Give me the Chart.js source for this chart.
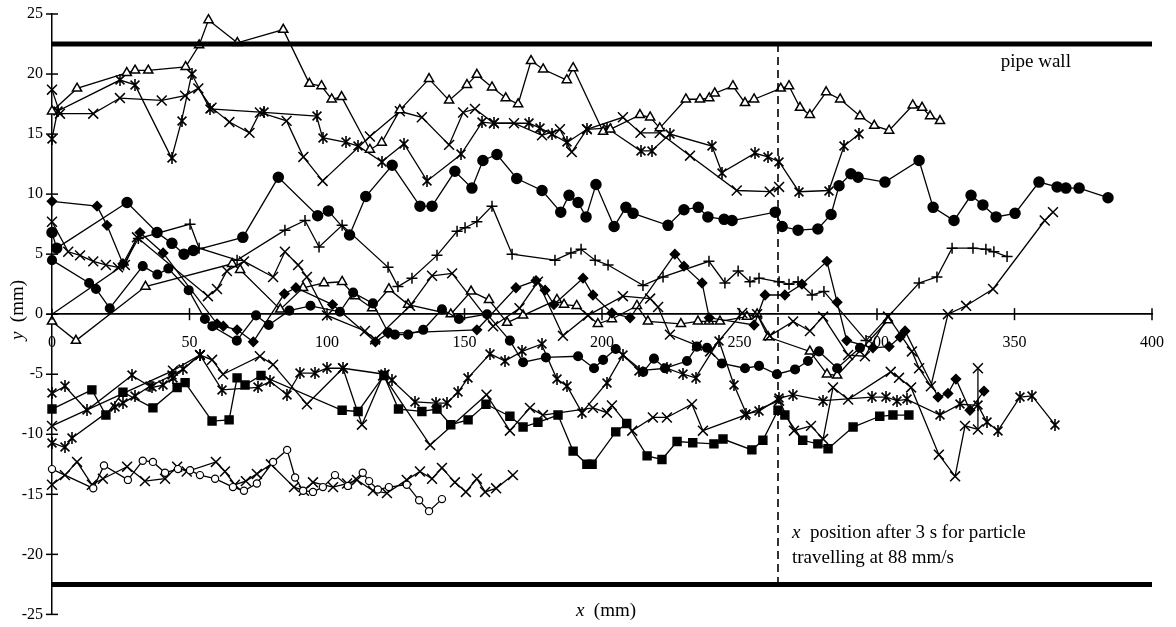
<!DOCTYPE html>
<html><head><meta charset="utf-8">
<script src="https://cdn.jsdelivr.net/npm/chart.js@4.4.0/dist/chart.umd.min.js"></script>
<style>html,body{margin:0;padding:0;background:#fff;}canvas{display:block;}</style>
</head><body>
<canvas id="c" width="1176" height="627"></canvas>
<script>
// ---- tick labels ----
const xTicks = [0,50,100,150,200,250,300,350,400];
const yTicks = [-25,-20,-15,-10,-5,0,5,10,15,20,25];
// ---- reference lines ----
const wallX = [0,400];
const wallTopY = [22.5,22.5];
const wallBotY = [-22.5,-22.5];
const dashX = [264,264];
const dashY = [22.5,-22.5];
// ---- series (x mm, y mm) ----
const triX = [0,9.1,27.2,30.2,35,48.6,53.5,56.9,67.4,84.1,93.6,98,101.7,105.3,115.6,119.9,126.5,137.1,144.4,150.9,154.5,160,165,169.5,174.2,178.6,187.2,189.5,200.4,203,213.8,217.5,221,230.5,235.6,239,241,247.6,252,255.3,265,268,272,275.6,281.5,286.6,293.8,299,304.4,313,316.4,319.3,322.9];
const triY = [16.9,18.8,20.1,20.3,20.3,20.6,22.4,24.5,22.6,23.7,19.2,19.0,17.9,18.1,13.7,14.3,17.0,19.6,17.8,19.1,19.95,18.9,18.0,17.5,21.1,20.4,19.5,20.5,15.2,15.4,16.6,16.4,15.5,17.9,17.9,18.0,18.4,19.0,17.6,17.9,18.8,19.0,17.2,16.6,18.5,17.9,16.5,15.7,15.3,17.4,17.2,16.5,16.1];
const s1X = [0,2,24.7,30.2,43.5,47.1,50.8,57.4,77,96.2,98.4,107,111.4,119.9,128,136.4,148.7,156.4,160.7,173.5,177.5,181.8,187.3,194.5,201.8,214,218,224.7,240,243.6,255.6,260.4,264.4,271.6,282.5,288,293.5];
const s1Y = [14.6,16.9,19.5,19.1,13.0,16.1,20.0,17.1,16.8,16.5,14.7,14.3,14.0,12.7,14.2,11.1,13.3,16.0,15.9,15.9,15.5,15.0,14.3,15.4,15.5,13.6,13.6,15.0,14.0,11.8,13.4,13.1,12.7,10.2,10.3,14.0,15.0];
const s2X = [0,2.9,15,24.7,39.9,48.4,53.2,58,64.5,71.8,75.6,85.3,91.4,98.4,115.6,126.5,134.5,144.4,149.5,153.8,160.7,168,178.2,184.7,189,194.5,207.6,214,221,232,249,261,264.4];
const s2Y = [18.7,16.7,16.7,18.0,17.8,18.2,18.8,17.2,16.0,15.1,16.8,16.1,13.1,11.1,14.8,16.9,16.4,14.1,16.8,17.1,15.9,15.9,14.9,15.4,13.5,15.4,16.4,15.1,15.1,13.2,10.3,10.2,10.6];
const fc1X = [0,1.7,27.3,38.2,43.6,48,51.4,69.4,82.3,96.6,100.5,108.2,114.1,123.7,133.8,138.2,146.5,152.7,156.7,161.8,169,178.2,185,188,191.3,194.2,197.8,204.4,208.7,211.3,224,229.8,235,238.5,244.4,247.3,263,265.5,271.3,278.5,283.3,286.2,290.5,293.1,302.9,315.3,320.4,328,334.2,338.5,343.3,350.2,358.9,365.5,368.7,373.5,384];
const fc1Y = [6.8,5.5,9.3,6.8,5.9,5.0,5.3,6.4,11.4,8.2,8.6,6.6,9.8,12.4,9.0,9.0,11.9,10.5,12.8,13.3,11.3,10.3,8.5,9.9,9.3,8.1,10.8,7.3,8.9,8.4,7.4,8.7,8.9,8.1,7.9,7.8,8.5,7.3,7.0,7.1,8.3,10.7,11.7,11.4,11.0,12.8,8.9,7.8,9.9,9.1,8.1,8.4,11.0,10.6,10.5,10.5,9.7];
const fc2X = [0,13.5,16,21,33,38.3,42.3,49.7,55.6,58.3,67.2,74.2,78.8,86.3,94,104.7,109.5,116.7,122.2,124.7,129.5,135,141.8,148,158.2,166.5,171.3,179.6,191.3,197.1,200.4,205,215,218.9,222.9,230.9,234.5,238.2,243.6,252,257.1,263.6,270.2,274.9,278.9,285.5,293.8];
const fc2Y = [4.5,2.6,2.1,0.5,4.0,3.3,3.8,2.0,-0.4,-1.0,-2.2,-0.1,-0.9,0.3,0.7,0.2,1.8,0.9,-1.5,-1.7,-1.7,-1.3,0.4,-0.4,0,-2.2,-4.0,-3.6,-3.5,-4.5,-3.8,-2.9,-4.8,-3.7,-4.5,-3.9,-2.7,-2.8,-4.1,-4.5,-4.3,-5.0,-4.6,-3.9,-3.1,-4.5,-2.8];
const dX = [0,16.4,20,25.8,32,40.4,60,62.3,67.3,73.2,84.5,88.7,102,117.6,122.2,154.5,168.7,176,179.3,182.5,193.1,196.7,203.6,210.2,226.5,229.8,236.4,239,255.3,259.3,266.5,272.7,281.8,285.5,289,298.5,304.4,308.4,310.2,322.2,325.8,328.7,333.8,338.9];
const dY = [9.4,9.0,7.4,4.2,6.8,5.1,-0.8,-1.0,-1.3,-2.3,1.7,2.2,0.8,-2.3,-1.6,-1.3,2.2,2.8,2.0,0.8,3.0,1.6,0.1,-0.3,5.0,4.0,2.6,-0.3,-0.9,1.6,1.6,2.5,4.4,1.0,-2.2,-2.8,-2.7,-1.9,-1.4,-6.9,-6.6,-5.4,-8.0,-6.4];
const pX = [0,26,31.4,50.2,53.5,67.3,84.7,92,97.1,105.5,122.2,125.8,130.9,140,147.3,150.2,154.5,160,167.3,182.9,188.7,192.4,197.5,202.2,214.9,222.2,238.9,244.7,249.5,253.8,257.1,264.4,268,271.3,276.4,280.7,296,315.3,321.8,327.3,334.9,339.6,342.5,347.3];
const pY = [0,4.1,6.3,7.5,5.5,4.5,7.0,7.8,5.6,7.4,3.9,2.3,3.0,4.9,6.9,7.2,7.7,9.0,5.0,4.5,5.1,5.4,4.5,4.1,2.4,3.1,4.4,2.6,3.6,2.7,3.0,2.7,2.5,2.7,1.6,1.9,-2.2,2.6,3.1,5.5,5.5,5.4,5.2,4.8];
const xaX = [0,5.9,10.2,15,19.6,24,26.5,30.9,56.7,60,63.6,69.8,80.4,84.7,89.5,92.7,100,113.8,117.5,130.2,138.2,145.5,160.4,170,176.7,185.8,194.9,207.6,217.5,220.4,224.7,234.5,239.3,251,256.4,261,269.5,275.6,280.4,289.5,295.6,304,312.7,315.3,319.6,325.8,332.4,342.2,361,364];
const xaY = [7.7,5.2,4.9,4.4,4.1,3.9,4.1,6.4,1.5,2.1,3.6,4.4,3.1,5.2,4.1,3.1,-0.1,-1.4,-2.1,0.7,3.2,3.4,-1.0,0.5,2.7,-1.8,-0.1,1.5,1.3,0.6,-1.7,-2.6,-3.1,0.1,0,-1.8,-0.6,-1.4,-0.2,-3.4,-3.5,-0.2,-3.1,-4.5,-6.0,0,0.7,2.1,7.8,8.5];
const tmX = [0,8.7,34,65.5,68.4,83,91.3,98.9,105.5,110.2,116.4,122.5,129.5,145,152.4,158.9,165.5,171.3,183.6,186.2,190.8,198.5,203.6,212.7,216.7,228.7,234.9,238.9,242.9,252.7,256.4,260.4,275.6,281.8,285.5,304];
const tmY = [-0.6,-2.2,2.3,4.2,3.7,0.4,2.2,2.6,2.7,1.5,0.5,2.1,0.8,0,1.9,1.2,-0.7,-0.1,1.2,0.8,0.7,-0.8,-0.4,0.7,-0.6,-0.8,-0.6,-0.6,-0.6,-0.2,0,-1.9,-3.1,-5.0,-5.1,-0.5];
const sqX = [0,14.5,19.6,25.8,36.7,45.5,48.4,58.2,64.4,67.3,70.2,76,105.5,111.3,120.7,126,134.5,140,145,151.3,157.8,166.5,171.3,176.7,184,189.5,194.5,196.4,205,209,216.4,221.8,227.3,233,240.7,244,254.5,258.5,264,266.5,273,278.5,282.2,291.3,301,305.8,311.6];
const sqY = [-7.9,-6.3,-8.4,-6.5,-7.8,-6.1,-5.7,-8.9,-8.8,-5.3,-5.9,-5.1,-8.0,-8.1,-5.1,-7.9,-8.1,-7.9,-9.2,-8.8,-7.5,-8.5,-9.4,-9.0,-8.4,-11.4,-12.5,-12.5,-9.8,-9.1,-11.8,-12.1,-10.6,-10.7,-10.8,-10.4,-11.3,-10.5,-8.0,-8.4,-10.5,-10.8,-11.2,-9.4,-8.5,-8.4,-8.4];
const xb1X = [0,4.7,12.7,29,36.4,40.4,44,53.8,61.8,75,79.3,85.5,90.2,95.6,99.9,105.8,121,123.6,132,139.6,143.6,147.6,151.3,159.3,164.7,170.9,178,183.6,187.3,192.7,201.8,207.6,213.5,223.5,229.5,234,242.5,248,252.5,257,264.4,269.5,280.4,298.2,303.3,307.3,310.9,322.9,330.2,336.7,340,344,352,356.4,364.7];
const xb1Y = [-6.6,-6.0,-8.0,-5.1,-6.1,-5.9,-5.3,-3.4,-6.3,-6.1,-5.6,-6.7,-4.9,-4.9,-4.5,-4.5,-5.0,-5.5,-7.3,-7.4,-7.4,-6.5,-5.3,-3.3,-3.9,-3.1,-2.5,-5.4,-6.0,-8.2,-5.7,-3.4,-4.7,-4.5,-5.0,-5.3,-2.2,-5.9,-8.3,-8.1,-7.0,-6.7,-7.2,-6.9,-6.9,-7.2,-7.1,-8.4,-7.5,-7.6,-9.0,-9.7,-6.9,-6.8,-9.2];
const xcX = [0,44,53.8,58.2,62.2,75.6,80.4,92.7,105.8,112.7,120.4,137.5,158,166.5,173.8,178.5,196.7,201.8,203.6,211,218.5,223.6,232.7,236.7,252,264.4,269.8,276,280.4,284,289.5,305,308,312.4,322.5,328.4,332,336.7,336.7];
const xcY = [-9.3,-4.7,-3.4,-3.8,-5.0,-3.5,-4.2,-7.5,-4.5,-9.2,-5.1,-10.9,-6.7,-9.7,-7.8,-8.4,-7.8,-8.2,-7.6,-9.7,-8.6,-8.6,-7.5,-9.7,-8.4,-7.2,-9.7,-9.3,-10.4,-6.1,-7.1,-4.8,-5.3,-6.1,-11.7,-13.5,-9.3,-9.6,-4.5];
const xb2X = [0,4.7,7.3,22.9,25.8,30.2,35.6,43.6,47.6,53.8];
const xb2Y = [-10.7,-11.1,-10.3,-7.7,-7.4,-6.8,-6.0,-5.1,-4.6,-3.4];
const ocX = [0,15,18.9,27.6,33,36.7,41.1,45.8,50.2,53.8,59.3,65.8,69.8,74.5,80.4,85.5,88.4,91.3,94.9,98.5,102.9,107.6,113,115.3,118.5,122.5,129,133.5,137.1,141.8];
const ocY = [-12.9,-14.5,-12.6,-13.8,-12.2,-12.3,-13.2,-12.9,-13.0,-13.4,-13.7,-14.4,-14.7,-14.1,-12.3,-11.3,-13.6,-14.7,-14.8,-14.4,-13.4,-14.3,-13.2,-13.9,-14.6,-14.4,-14.2,-15.5,-16.4,-15.4];
const xoX = [0,4.7,9.1,14.5,18.5,27.3,33.8,41.1,45.5,49,59.6,62.9,66.5,70.5,74.5,79.6,88,91.6,94.9,102.2,107.3,110.9,116.7,121.8,129,133.8,138.2,141.8,146.5,150.5,154.5,157.5,161.5,167.6];
const xoY = [-14.2,-13.4,-12.3,-14.2,-13.7,-12.7,-13.9,-13.7,-12.7,-13.1,-12.3,-13.1,-14.2,-13.9,-13.3,-12.5,-14.4,-14.7,-14.0,-14.4,-14.1,-13.8,-14.7,-14.9,-13.8,-13.1,-13.7,-12.8,-14.0,-14.8,-13.7,-14.8,-14.5,-13.4];

// ---- styling ----
const SERIF = '"Liberation Serif", "DejaVu Serif", serif';
Chart.defaults.font.family = SERIF;
Chart.defaults.color = '#000';

function makeAsterisk(r, lw) {
  const s = 16;
  const c = document.createElement('canvas');
  c.width = s; c.height = s;
  const g = c.getContext('2d');
  g.strokeStyle = '#000'; g.lineWidth = lw; g.lineCap = 'butt';
  const m = s / 2, d = r * 0.74;
  g.beginPath();
  g.moveTo(m - d, m - d); g.lineTo(m + d, m + d);
  g.moveTo(m + d, m - d); g.lineTo(m - d, m + d);
  g.moveTo(m, m - r); g.lineTo(m, m + r);
  g.stroke();
  return c;
}
const asterisk = makeAsterisk(6, 1.6);

function pts(xs, ys) { return xs.map((v, i) => ({x: v, y: ys[i]})); }
function ds(xs, ys, o) {
  return Object.assign({
    data: pts(xs, ys), showLine: true, borderColor: '#000', borderWidth: 1.3,
    pointBorderColor: '#000', pointBorderWidth: 1.5, pointHoverRadius: 0,
    clip: false, tension: 0, fill: false
  }, o);
}
const openTri = {pointStyle: 'triangle', pointRadius: 5.3, pointBackgroundColor: '#fff'};
const xMark = {pointStyle: 'crossRot', pointRadius: 7, pointBackgroundColor: '#000'};
const star = {pointStyle: asterisk, pointRadius: 6};

const datasets = [
  ds(wallX, wallTopY, {borderWidth: 5, pointRadius: 0}),
  ds(wallX, wallBotY, {borderWidth: 5, pointRadius: 0}),
  ds(dashX, dashY, {borderWidth: 1.6, borderDash: [8, 5], pointRadius: 0}),
  ds(triX, triY, openTri),
  ds(s1X, s1Y, star),
  ds(s2X, s2Y, xMark),
  ds(fc1X, fc1Y, {pointStyle: 'circle', pointRadius: 5, pointBackgroundColor: '#000'}),
  ds(fc2X, fc2Y, {pointStyle: 'circle', pointRadius: 4.3, pointBackgroundColor: '#000'}),
  ds(dX, dY, {pointStyle: 'rectRot', pointRadius: 4.6, pointBackgroundColor: '#000'}),
  ds(pX, pY, {pointStyle: 'cross', pointRadius: 5.5}),
  ds(xaX, xaY, xMark),
  ds(tmX, tmY, openTri),
  ds(sqX, sqY, {pointStyle: 'rect', pointRadius: 5.6, pointBackgroundColor: '#000'}),
  ds(xb1X, xb1Y, star),
  ds(xcX, xcY, xMark),
  ds(xb2X, xb2Y, star),
  ds(ocX, ocY, {pointStyle: 'circle', pointRadius: 3.6, pointBackgroundColor: '#fff', pointBorderWidth: 1.2}),
  ds(xoX, xoY, xMark)
];

function drawMixed(ctx, parts, x, y, align, size) {
  const fonts = parts.map(p => (p.i ? 'italic ' : '') + size + 'px ' + SERIF);
  let total = 0;
  const widths = parts.map((p, k) => { ctx.font = fonts[k]; const w = ctx.measureText(p.t).width; total += w; return w; });
  let cx = align === 'center' ? x - total / 2 : x;
  ctx.textAlign = 'left';
  parts.forEach((p, k) => { ctx.font = fonts[k]; ctx.fillText(p.t, cx, y); cx += widths[k]; });
}

const decor = {
  id: 'decor',
  beforeDatasetsDraw(chart) { chart.ctx.imageSmoothingEnabled = false; },
  afterDatasetsDraw(chart) { chart.ctx.imageSmoothingEnabled = true; },
  afterDraw(chart) {
    const {ctx, chartArea, scales: {x, y}} = chart;
    const y0 = y.getPixelForValue(0);
    ctx.save();
    ctx.strokeStyle = '#000'; ctx.lineWidth = 1.5;
    xTicks.forEach(v => {
      if (v === 0) return;
      const px = x.getPixelForValue(v);
      ctx.beginPath(); ctx.moveTo(px, y0 - 6); ctx.lineTo(px, y0 + 6); ctx.stroke();
    });
    yTicks.forEach(v => {
      const py = y.getPixelForValue(v);
      ctx.beginPath(); ctx.moveTo(chartArea.left - 6, py); ctx.lineTo(chartArea.left + 6, py); ctx.stroke();
    });
    ctx.fillStyle = '#000';
    ctx.textBaseline = 'middle';
    drawMixed(ctx, [{t: 'x', i: true}, {t: '  (mm)'}], (chartArea.left + chartArea.right) / 2 + 4, 611, 'center', 19);
    ctx.save();
    ctx.translate(18, 310);
    ctx.rotate(-Math.PI / 2);
    drawMixed(ctx, [{t: 'y', i: true}, {t: '  (mm)'}], 0, 0, 'center', 19);
    ctx.restore();
    drawMixed(ctx, [{t: 'pipe wall'}], x.getPixelForValue(345), 62, 'left', 19);
    const ax = x.getPixelForValue(dashX[0]) + 14;
    drawMixed(ctx, [{t: 'x', i: true}, {t: '  position after 3 s for particle'}], ax, 533, 'left', 19);
    drawMixed(ctx, [{t: 'travelling at 88 mm/s'}], ax, 558, 'left', 19);
    ctx.restore();
  }
};

new Chart(document.getElementById('c'), {
  type: 'scatter',
  data: {datasets},
  options: {
    responsive: false, animation: false, devicePixelRatio: 1,
    layout: {padding: {left: 0, right: 24, top: 14, bottom: 9}},
    plugins: {legend: {display: false}, tooltip: {enabled: false}},
    events: [],
    scales: {
      x: {
        type: 'linear', min: 0, max: 400, position: {y: 0},
        afterBuildTicks: s => { s.ticks = xTicks.map(v => ({value: v})); },
        ticks: {color: '#000', font: {size: 16}, padding: 11, maxRotation: 0, autoSkip: false},
        grid: {display: false, drawTicks: true, tickLength: 8},
        border: {display: true, color: '#000', width: 1.8}
      },
      y: {
        type: 'linear', min: -25, max: 25, position: 'left',
        afterBuildTicks: s => { s.ticks = yTicks.map(v => ({value: v})); },
        afterFit: s => { s.width = 52; },
        ticks: {color: '#000', font: {size: 16}, padding: 3},
        grid: {display: false, drawTicks: true, tickLength: 6},
        border: {display: true, color: '#000', width: 1.5}
      }
    }
  },
  plugins: [decor]
});
</script>
</body></html>
